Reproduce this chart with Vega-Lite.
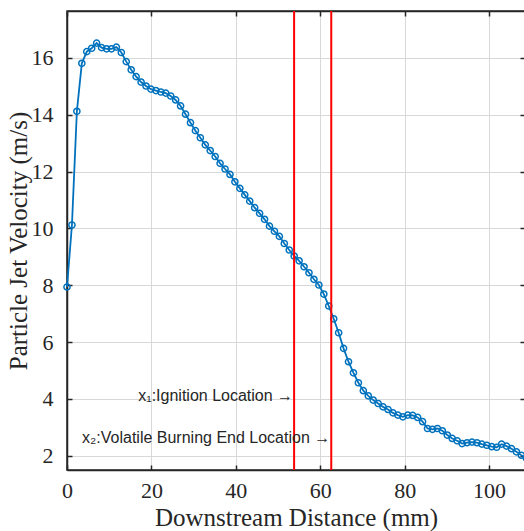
{
  "$schema": "https://vega.github.io/schema/vega-lite/v6.json",
  "autosize": "none",
  "width": 458,
  "height": 459,
  "padding": {"left": 67, "top": 11, "right": 0, "bottom": 61},
  "config": {
    "view": {"stroke": "#262626", "strokeWidth": 1.5},
    "axis": {
      "labelFont": "Liberation Serif",
      "titleFont": "Liberation Serif",
      "labelFontSize": 22,
      "titleFontSize": 25,
      "titleFontWeight": "normal",
      "labelColor": "#262626",
      "titleColor": "#262626",
      "domainColor": "#262626",
      "domainWidth": 1.5,
      "tickColor": "#262626",
      "tickWidth": 1.5,
      "tickSize": -5,
      "labelFlush": false,
      "gridColor": "#d8d8d8",
      "gridWidth": 1
    }
  },
  "datasets": {
    "vel": [
      {"d": 0, "v": 7.94}, {"d": 1.17, "v": 10.12}, {"d": 2.34, "v": 14.12}, {"d": 3.51, "v": 15.81},
      {"d": 4.68, "v": 16.22}, {"d": 5.85, "v": 16.34}, {"d": 7.02, "v": 16.52}, {"d": 8.19, "v": 16.36},
      {"d": 9.36, "v": 16.32}, {"d": 10.53, "v": 16.32}, {"d": 11.7, "v": 16.38}, {"d": 12.87, "v": 16.19},
      {"d": 14.04, "v": 15.87}, {"d": 15.21, "v": 15.58}, {"d": 16.38, "v": 15.34}, {"d": 17.55, "v": 15.15},
      {"d": 18.72, "v": 15.01}, {"d": 19.89, "v": 14.9}, {"d": 21.06, "v": 14.85}, {"d": 22.23, "v": 14.8},
      {"d": 23.4, "v": 14.76}, {"d": 24.57, "v": 14.66}, {"d": 25.74, "v": 14.52}, {"d": 26.91, "v": 14.31},
      {"d": 28.08, "v": 14.02}, {"d": 29.25, "v": 13.72}, {"d": 30.42, "v": 13.44}, {"d": 31.59, "v": 13.19},
      {"d": 32.76, "v": 12.94}, {"d": 33.93, "v": 12.74}, {"d": 35.1, "v": 12.53}, {"d": 36.27, "v": 12.29},
      {"d": 37.44, "v": 12.09}, {"d": 38.61, "v": 11.9}, {"d": 39.78, "v": 11.64}, {"d": 40.95, "v": 11.41},
      {"d": 42.12, "v": 11.18}, {"d": 43.29, "v": 10.96}, {"d": 44.46, "v": 10.73}, {"d": 45.63, "v": 10.53},
      {"d": 46.8, "v": 10.32}, {"d": 47.97, "v": 10.08}, {"d": 49.14, "v": 9.9}, {"d": 50.31, "v": 9.72},
      {"d": 51.48, "v": 9.47}, {"d": 52.65, "v": 9.24}, {"d": 53.82, "v": 9.03}, {"d": 54.99, "v": 8.86},
      {"d": 56.16, "v": 8.65}, {"d": 57.33, "v": 8.44}, {"d": 58.5, "v": 8.21}, {"d": 59.67, "v": 8.01},
      {"d": 60.84, "v": 7.69}, {"d": 62.01, "v": 7.27}, {"d": 63.18, "v": 6.82}, {"d": 64.35, "v": 6.33},
      {"d": 65.52, "v": 5.78}, {"d": 66.69, "v": 5.31}, {"d": 67.86, "v": 4.92}, {"d": 69.03, "v": 4.57},
      {"d": 70.2, "v": 4.29}, {"d": 71.37, "v": 4.11}, {"d": 72.54, "v": 3.96}, {"d": 73.71, "v": 3.84},
      {"d": 74.88, "v": 3.72}, {"d": 76.05, "v": 3.63}, {"d": 77.22, "v": 3.51}, {"d": 78.39, "v": 3.43},
      {"d": 79.56, "v": 3.37}, {"d": 80.73, "v": 3.43}, {"d": 81.9, "v": 3.42}, {"d": 83.07, "v": 3.35},
      {"d": 84.24, "v": 3.2}, {"d": 85.41, "v": 2.96}, {"d": 86.58, "v": 2.93}, {"d": 87.75, "v": 2.96},
      {"d": 88.92, "v": 2.88}, {"d": 90.09, "v": 2.73}, {"d": 91.26, "v": 2.61}, {"d": 92.43, "v": 2.53},
      {"d": 93.6, "v": 2.43}, {"d": 94.77, "v": 2.46}, {"d": 95.94, "v": 2.48}, {"d": 97.11, "v": 2.46},
      {"d": 98.28, "v": 2.41}, {"d": 99.45, "v": 2.37}, {"d": 100.62, "v": 2.32}, {"d": 101.79, "v": 2.3},
      {"d": 102.96, "v": 2.41}, {"d": 104.13, "v": 2.34}, {"d": 105.3, "v": 2.25}, {"d": 106.47, "v": 2.14},
      {"d": 107.64, "v": 2.02}, {"d": 108.81, "v": 1.92}
    ],
    "marks": [
      {"d": 53.8, "label": "x₁:Ignition Location →", "ly": 4.1},
      {"d": 62.6, "label": "x₂:Volatile Burning End Location →", "ly": 2.63}
    ]
  },
  "resolve": {"axis": {"x": "independent", "y": "independent"}},
  "layer": [
    {
      "data": {"name": "vel"},
      "mark": {
        "type": "line",
        "color": "#0072BD",
        "strokeWidth": 1.8,
        "point": {"filled": false, "size": 38, "strokeWidth": 1.5, "color": "#0072BD"}
      },
      "encoding": {
        "x": {
          "field": "d", "type": "quantitative",
          "scale": {"domain": [0, 108.5], "nice": false, "zero": false},
          "axis": {"values": [0, 20, 40, 60, 80, 100], "title": "Downstream Distance (mm)", "grid": true, "labelPadding": 15, "titlePadding": 4, "labelFlush": false, "labelFont": "Liberation Serif", "titleFont": "Liberation Serif"}
        },
        "y": {
          "field": "v", "type": "quantitative",
          "scale": {"domain": [1.5, 17.65], "nice": false, "zero": false},
          "axis": {"values": [2, 4, 6, 8, 10, 12, 14, 16], "title": "Particle Jet Velocity (m/s)", "grid": true, "labelPadding": 19, "titlePadding": 0, "labelFlush": false, "labelFont": "Liberation Serif", "titleFont": "Liberation Serif"}
        }
      }
    },
    {
      "data": {"name": "marks"},
      "mark": {"type": "rule", "color": "#FF0000", "strokeWidth": 2},
      "encoding": {
        "x": {
          "field": "d", "type": "quantitative",
          "scale": {"domain": [0, 108.5], "nice": false, "zero": false},
          "axis": {"orient": "top", "values": [0, 20, 40, 60, 80, 100], "labels": false, "title": null, "grid": false}
        }
      }
    },
    {
      "data": {"name": "marks"},
      "mark": {"type": "text", "align": "right", "baseline": "middle", "font": "Liberation Sans", "fontSize": 16, "color": "#262626", "dx": -1},
      "encoding": {
        "x": {"field": "d", "type": "quantitative", "scale": {"domain": [0, 108.5], "nice": false, "zero": false}, "axis": null},
        "y": {
          "field": "ly", "type": "quantitative",
          "scale": {"domain": [1.5, 17.65], "nice": false, "zero": false},
          "axis": {"orient": "right", "values": [2, 4, 6, 8, 10, 12, 14, 16], "labels": false, "title": null, "grid": false, "domain": false}
        },
        "text": {"field": "label"}
      }
    }
  ]
}
